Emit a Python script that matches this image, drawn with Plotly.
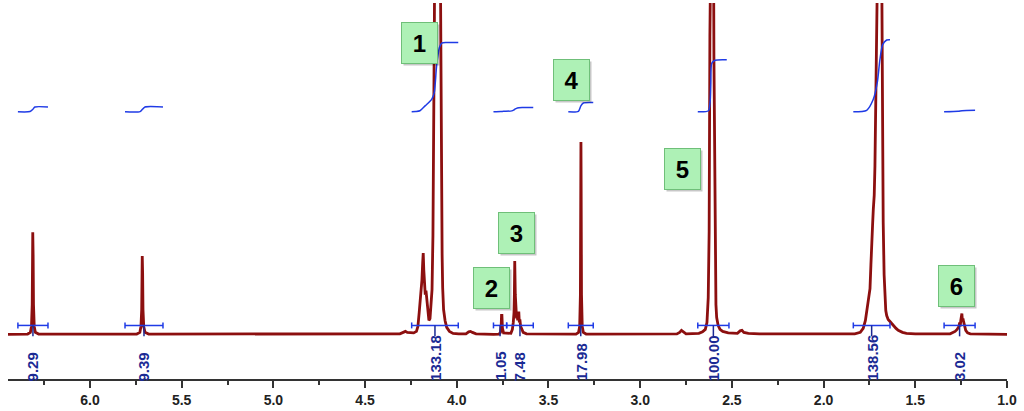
import plotly.graph_objects as go

# ---------------- data ----------------
# 1H NMR spectrum trace: chemical shift (ppm) and intensity (arbitrary units, baseline 0)
spec_ppm = [6.447, 6.340, 6.325, 6.319, 6.315, 6.313, 6.312, 6.310, 6.308, 6.304, 6.298, 6.280,
            5.745, 5.728, 5.722, 5.718, 5.716, 5.715, 5.713, 5.711, 5.707, 5.700, 5.680,
            4.310, 4.290, 4.280, 4.270, 4.255,
            4.235, 4.220, 4.212, 4.205, 4.199, 4.194, 4.190, 4.186, 4.183, 4.180, 4.176, 4.172,
            4.168, 4.164, 4.158, 4.152, 4.146, 4.140, 4.135, 4.130, 4.127, 4.122, 4.118, 4.112,
            4.100, 4.093, 4.088, 4.084, 4.080, 4.077, 4.072, 4.064, 4.055, 4.040, 4.020, 3.990,
            3.950, 3.935, 3.925, 3.915, 3.895, 3.800,
            3.770, 3.762, 3.758, 3.756, 3.754, 3.751, 3.745,
            3.705, 3.697, 3.692, 3.688, 3.686, 3.684, 3.681, 3.678, 3.674, 3.671, 3.668, 3.665,
            3.662, 3.659, 3.656, 3.652, 3.646, 3.638, 3.620,
            3.350, 3.336, 3.330, 3.326, 3.324, 3.323, 3.322, 3.320, 3.316, 3.310, 3.295,
            2.800, 2.785, 2.775, 2.765, 2.750,
            2.680, 2.660, 2.645, 2.636, 2.629, 2.624, 2.620, 2.616, 2.604, 2.598, 2.592, 2.587,
            2.583, 2.575, 2.565, 2.550, 2.520, 2.470, 2.455, 2.445, 2.435, 2.410, 2.350,
            1.830, 1.800, 1.784, 1.772, 1.765, 1.756, 1.747, 1.742, 1.738, 1.733, 1.729, 1.724,
            1.720, 1.712, 1.705, 1.690, 1.684, 1.679, 1.675, 1.670, 1.666, 1.661, 1.656, 1.648,
            1.638, 1.630, 1.620, 1.605, 1.593, 1.570, 1.548, 1.500,
            1.310, 1.290, 1.283, 1.272, 1.262, 1.258, 1.255, 1.252, 1.249, 1.246, 1.243, 1.240,
            1.237, 1.233, 1.229, 1.225, 1.215, 1.200, 0.980]
spec_int = [0, 0.3, 2, 8, 30, 80, 103, 80, 30, 8, 2, 0.3,
            0.3, 2, 8, 25, 62, 79, 62, 25, 8, 2, 0.3,
            0.5, 2.5, 3, 2, 1.5,
            1.5, 3, 8, 22, 37, 40, 55, 72, 82, 65, 42, 40,
            44, 36, 24, 14, 16, 28, 45, 100, 160, 320, 520, 600,
            600, 480, 280, 150, 80, 47, 25, 14, 7, 3, 1, 0.5,
            0.5, 2.5, 3, 2, 0.5, 0,
            0.3, 2, 8, 19, 19, 6, 1.5,
            1, 5, 12, 22, 40, 74, 40, 20, 16, 23, 14, 20,
            23, 12, 15, 8, 5, 2, 0.5,
            0.3, 2, 8, 40, 150, 194, 150, 40, 8, 2, 0.3,
            0.5, 2, 4, 2.5, 0.5,
            1, 2.5, 5, 12, 37, 104, 300, 600, 600, 280, 70, 30,
            17, 9, 5, 3, 1.5, 1, 3.5, 4, 2, 1, 0.5,
            0.5, 2, 6, 14, 22, 32, 46, 70, 96, 110, 126, 140,
            170, 350, 600, 600, 400, 160, 113, 60, 36, 24, 19, 15,
            13, 11, 9, 6, 4, 2, 1, 0.5,
            0.5, 2, 3, 5, 8, 12, 8, 14, 20, 21, 13, 16,
            13, 8, 7, 4, 1.5, 0.5, 0]

# integration regions: start / end (ppm) and integral values
int_start = [6.393, 5.809, 4.246, 3.800, 3.728, 3.392, 2.686, 1.838, 1.343]
int_end = [6.229, 5.602, 3.992, 3.728, 3.583, 3.256, 2.516, 1.638, 1.174]
int_labels = ["9.29", "9.39", "133.18", "1.05", "7.48", "17.98", "100.00", "138.56", "3.02"]

# integral curves (cumulative integral vs ppm)
icurve_ppm = [
    [6.393, 6.327, 6.311, 6.300, 6.229],
    [5.809, 5.727, 5.714, 5.700, 5.602],
    [4.246, 4.225, 4.201, 4.173, 4.137, 4.123, 4.110, 4.095, 4.082, 4.055, 3.992],
    [3.800, 3.760, 3.745, 3.700, 3.685, 3.670, 3.640, 3.583],
    [3.392, 3.337, 3.324, 3.310, 3.256],
    [2.686, 2.628, 2.619, 2.615, 2.610, 2.592, 2.528],
    [1.838, 1.765, 1.729, 1.707, 1.693, 1.678, 1.656, 1.638],
    [1.343, 1.266, 1.245, 1.174],
]
icurve_val = [
    [0, 0.5, 5, 9.29, 9.29],
    [0, 0.5, 5, 9.39, 9.39],
    [0, 0.5, 2, 11.4, 24, 37, 88, 123, 132, 133.18, 133.18],
    [0, 0.6, 1.05, 1.8, 4.5, 7.5, 8.4, 8.53],
    [0, 1, 11, 17, 17.98],
    [0, 2, 18, 55, 93, 99, 100],
    [0, 3, 24, 57, 100, 129, 138, 138.56],
    [0, 1, 2.2, 3.02],
]

# numbered peak markers: label, ppm, intensity
box_labels = ["1", "2", "3", "4", "5", "6"]
box_ppm = [4.201, 3.813, 3.677, 3.372, 2.772, 1.273]
box_int = [294, 47, 102.5, 256, 166.5, 48.5]

x_ticks = [6.0, 5.5, 5.0, 4.5, 4.0, 3.5, 3.0, 2.5, 2.0, 1.5, 1.0]

# ---------------- styling constants ----------------
SPEC_COLOR = "#8c0f0f"
INT_COLOR = "#1f3be6"
LABEL_COLOR = "#1b2a94"
INT_BASE = 224.3      # vertical offset of integral curves
INT_SCALE = 0.525     # intensity units per integral unit
BAR_Y = 9
CAP = 3

fig = go.Figure()

fig.add_trace(go.Scatter(x=spec_ppm, y=spec_int, mode="lines",
                         line=dict(color=SPEC_COLOR, width=2.8), hoverinfo="skip"))

for px, pv in zip(icurve_ppm, icurve_val):
    fig.add_trace(go.Scatter(x=px, y=[INT_BASE + INT_SCALE * v for v in pv], mode="lines",
                             line=dict(color=INT_COLOR, width=1.5, shape="spline", smoothing=0.7),
                             hoverinfo="skip"))

shapes = []
annotations = []
for s, e, lab in zip(int_start, int_end, int_labels):
    c = (s + e) / 2
    shapes.append(dict(type="line", xref="x", yref="y", x0=s, x1=e, y0=BAR_Y, y1=BAR_Y,
                       line=dict(color=INT_COLOR, width=1.5)))
    for xx in (s, e):
        shapes.append(dict(type="line", xref="x", yref="y", x0=xx, x1=xx,
                           y0=BAR_Y - CAP, y1=BAR_Y + CAP, line=dict(color=INT_COLOR, width=1.5)))
    shapes.append(dict(type="line", xref="x", yref="y", x0=c, x1=c, y0=BAR_Y, y1=-2,
                       line=dict(color=LABEL_COLOR, width=1.5)))
    annotations.append(dict(x=c, y=-45, xref="x", yref="y", text=lab, showarrow=False,
                            textangle=-90, xanchor="center", yanchor="bottom", yshift=-4,
                            font=dict(family="Liberation Sans", size=15, color=LABEL_COLOR,
                                      weight="bold")))

for lab, bp, bi in zip(box_labels, box_ppm, box_int):
    annotations.append(dict(x=bp, y=bi, xref="x", yref="y", text=" ", showarrow=False,
                            width=35, height=40, bgcolor="rgba(0,0,0,0.22)", borderpad=0,
                            xshift=2, yshift=-2))
    annotations.append(dict(x=bp, y=bi, xref="x", yref="y", text=lab, showarrow=False,
                            width=35, height=40, bgcolor="#aef1b6", bordercolor="#6fbf79",
                            borderwidth=1, borderpad=0,
                            font=dict(family="Liberation Sans", size=24, color="#000000",
                                      weight="bold")))

fig.update_layout(
    width=1024, height=411,
    margin=dict(l=8, r=17, t=3, b=29),
    paper_bgcolor="white", plot_bgcolor="white",
    showlegend=False,
    shapes=shapes, annotations=annotations,
    xaxis=dict(range=[6.447, 1.0], showgrid=False, zeroline=False,
               showline=True, linecolor="#333333", linewidth=1.5,
               tickmode="array", tickvals=x_ticks, ticktext=[f"{t:.1f}" for t in x_ticks],
               ticks="outside", ticklen=7, tickwidth=1.5, tickcolor="#333333",
               minor=dict(dtick=0.25, tick0=1.0, ticks="outside", ticklen=4, tickwidth=1.5,
                          tickcolor="#333333"),
               tickfont=dict(family="Liberation Sans", size=14, color="#222222", weight="bold")),
    yaxis=dict(range=[-45, 334], visible=False),
)

fig.write_html("out.html", config={"displayModeBar": False},
               post_script="document.body.style.margin='0';document.body.style.overflow='hidden';")
